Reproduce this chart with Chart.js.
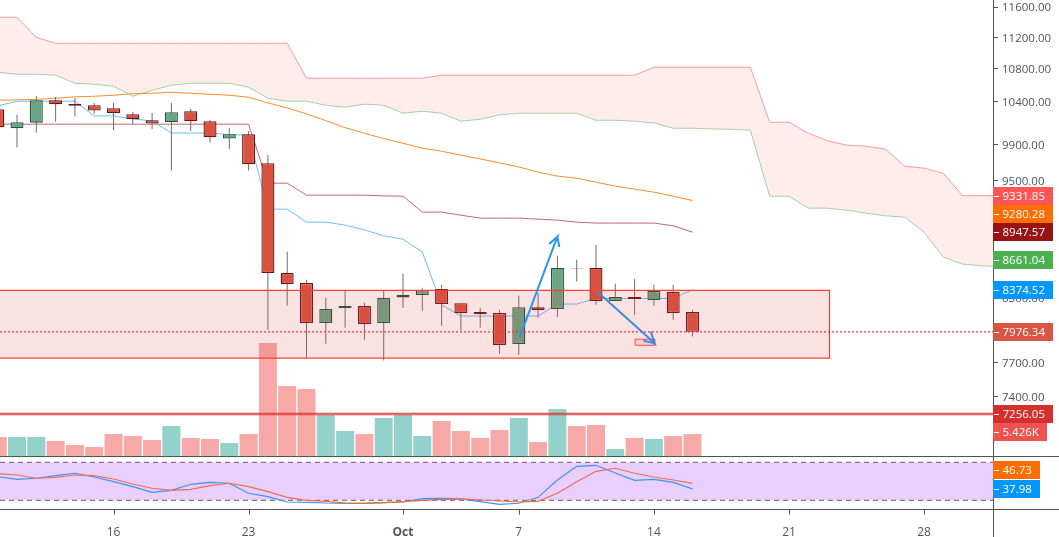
<!DOCTYPE html>
<html>
<head>
<meta charset="utf-8">
<title>BTC daily</title>
<script src="https://cdn.jsdelivr.net/npm/chart.js@4"></script>
<style>
  html, body { margin: 0; padding: 0; background: #fff; overflow: hidden; }
  canvas { display: block; }
</style>
</head>
<body>
<canvas id="myChart" width="1059" height="537"></canvas>
<script>
// x values are day numbers counted from 1 Sep (31 = 1 Oct)
const candleDays = [10,11,12,13,14,15,16,17,18,19,20,21,22,23,24,25,26,27,28,29,30,31,32,33,34,35,36,37,38,39,40,41,42,43,44,45,46];
const candleOpen = [10310,10087,10152,10418,10374,10358,10322,10251,10180,10157,10287,10169,9967,10017,9688,8536,8438,8058,8198,8217,8058,8299,8322,8380,8245,8160,8151,7865,8207,8189,8585,8585,8265,8303,8274,8351,8160];
const candleClose = [10099,10157,10418,10370,10353,10294,10263,10192,10141,10275,10169,9983,10017,9677,8536,8428,8058,8189,8217,8048,8293,8322,8370,8236,8151,8142,7856,8207,8179,8585,8582,8265,8303,8284,8361,8151,7976.34];
const candleHigh = [10362,10243,10470,10458,10442,10386,10386,10278,10266,10386,10314,10184,10090,10055,9781,8748,8470,8296,8363,8248,8366,8529,8392,8421,8245,8201,8182,8315,8344,8707,8667,8818,8431,8480,8421,8421,8182];
const candleLow = [10067,9864,10036,10164,10223,10258,10067,10137,10079,9606,10055,9921,9849,9606,7996,8220,7739,7868,8014,7904,7718,8201,8173,8033,7987,8014,7777,7768,8107,8116,8451,8229,8265,8135,8220,8088,7934];

const volumeK = [4.69,4.69,4.69,3.70,2.71,2.22,5.43,4.93,3.95,7.40,4.44,4.19,3.21,5.43,27.87,17.26,16.52,10.1,6.17,5.43,9.37,10.1,4.93,8.63,6.17,4.44,6.41,9.37,3.45,11.59,7.40,7.64,1.73,4.44,4.19,4.93,5.426];
const volumeUp = [false,true,true,false,false,false,false,false,false,true,false,false,true,false,false,false,false,true,true,false,true,true,true,false,false,false,false,true,false,true,false,false,true,false,true,false,false];

const cloudDays = [10,11,12,13,14,15,16,17,18,19,20,21,22,23,24,25,26,27,28,29,30,31,32,33,34,35,36,37,38,39,40,41,42,43,44,45,46,47,48,49,50,51,52,53,54,55,56,57,58,59,60,61,62];
const cloudTop = [11464,11464,11202,11125,11125,11125,11125,11125,11125,11125,11125,11125,11125,11125,11125,11125,10686,10686,10686,10686,10686,10686,10686,10723,10723,10723,10723,10723,10723,10723,10723,10723,10723,10723,10822,10822,10822,10822,10822,10822,10157,10157,10029,9941,9892,9880,9846,9655,9633,9576,9331.85,9331.85,9331.85];
const cloudBottom = [10760,10735,10735,10723,10624,10612,10587,10466,10538,10600,10624,10624,10624,10575,10442,10406,10406,10358,10334,10371,10358,10263,10287,10263,10169,10192,10243,10263,10263,10263,10263,10180,10180,10169,10149,10087,10087,10079,10075,10064,9327,9327,9199,9199,9178,9146,9118,9104,8948,8695,8624,8607,8600];

const maOrange = [10418,10422,10428,10442,10458,10466,10478,10497,10502,10514,10502,10490,10478,10454,10386,10326,10255,10176,10094,10029,9967,9914,9857,9823,9778,9736,9692,9647,9589,9545,9523,9479,9435,9403,9370,9327,9280.28];
const maMaroon = [10134,10134,10134,10134,10134,10134,10134,10134,10134,10134,10134,10134,10134,10134,9468,9468,9338,9338,9338,9338,9330,9327,9157,9157,9125,9094,9094,9094,9083,9073,9052,9042,9042,9042,9042,9014,8947.57];
const maBlue = [10350,10406,10406,10406,10406,10231,10231,10196,10172,10032,10032,10032,10013,10006,9188,9188,9052,9052,9021,8972,8910,8876,8745,8229,8123,8123,8123,8123,8123,8236,8236,8289,8289,8289,8289,8289,8374.52];

const stochK = [57.3,53.2,54.8,58.9,62.7,56.8,49.4,41.5,32.6,35.8,45.3,48.4,46.9,31.1,25.7,17.3,16.8,15.7,15.3,15.3,16.2,17.3,22.5,23.2,22.1,17.8,13.7,15.3,24.7,52.1,73.7,75.3,63.1,51.6,53.2,48.4,37.98];
const stochD = [62,60,54.8,56.3,60,58.9,53.7,45.8,39,35.8,37.4,43.1,46.9,41.5,33.6,24.7,20,18.4,15.7,15.3,16.2,17.8,20,21.6,22.1,20.5,18.9,17.3,18.4,31.1,49.4,65.8,70.6,62.7,56.8,52.1,46.73];
const stochBands = [80, 20];

const priceTicks = [11600,11200,10800,10400,9900,9500,9100,8700,8300,8000,7700,7400];
const timeTicks = [16,23,31,37,44,51,58];
const timeLabels = ['16','23','Oct','7','14','21','28'];

const lastClose = 7976.34;
const supportLevel = 7256.05;
const zoneDays = [10, 53.1];
const zonePrices = [8367, 7739];
const markerDays = [43.03, 44.04];
const markerPrices = [7909, 7854];
// drawn arrows: tail, tip, barb, tip, barb
const arrowUpDays = [37.03, 39, 38.57, 39, 39.1];
const arrowUpPrices = [7921, 8901, 8827, 8901, 8796];
const arrowDownDays = [41.07, 44.04, 43.84, 44.04, 43.45];
const arrowDownPrices = [8355, 7872, 7979, 7872, 7896];

const tagTexts = ['9331.85','9280.28','8947.57','8661.04','8374.52','7976.34','7256.05','5.426K','46.73','37.98'];
const tagValues = [9331.85,9280.28,8947.57,8661.04,8374.52,7976.34,7256.05,5.426,46.73,37.98];

const FONT = '"Open Sans", sans-serif';
const TEXT = '#50535e';
const X_MIN = 10.119, X_MAX = 61.57;

function pairs(xs, ys) { return xs.map((x, i) => ({ x: x, y: ys[i] })); }
function hline(y) { return [{ x: X_MIN, y: y }, { x: X_MAX + 1, y: y }]; }
function box(xs, ys) {
  return [
    { x: xs[0], y: ys[0] }, { x: xs[1], y: ys[0] }, { x: xs[1], y: ys[1] },
    { x: xs[0], y: ys[1] }, { x: xs[0], y: ys[0] }
  ];
}
function line(label, data, color, order, extra) {
  return Object.assign({
    type: 'line', label: label, data: data, borderColor: color, borderWidth: 1,
    pointRadius: 0, tension: 0, fill: false, order: order, yAxisID: 'y'
  }, extra || {});
}

const isUp = candleDays.map((d, i) => candleClose[i] >= candleOpen[i]);

const datasets = [
  line('Cloud top', pairs(cloudDays, cloudTop), '#ff9a9a', 100, { fill: { target: '+1' }, backgroundColor: 'rgba(255,82,82,0.1)' }),
  line('Cloud bottom', pairs(cloudDays, cloudBottom), '#a3d1a1', 99),
  line('Band top', hline(stochBands[0]), '#6a5a7a', 98, { yAxisID: 'yStoch', borderDash: [5, 4], fill: { target: '+1' }, backgroundColor: '#e9cffe' }),
  line('Band bottom', hline(stochBands[1]), '#6a5a7a', 97, { yAxisID: 'yStoch', borderDash: [5, 4] }),
  {
    type: 'bar', label: 'Volume', yAxisID: 'yVol', order: 90, barThickness: 18, grouped: false, inflateAmount: 0,
    data: pairs(candleDays, volumeK),
    backgroundColor: volumeUp.map(u => u ? '#93d2ca' : '#f7a9a8')
  },
  line('MA 200', pairs(candleDays, maOrange), '#ff8a2a', 80),
  line('MA 100', pairs(candleDays, maMaroon), '#bf6c6c', 79),
  line('MA 50', pairs(candleDays, maBlue), '#6cbcff', 78),
  {
    type: 'bar', label: 'Wicks', yAxisID: 'y', order: 60, barThickness: 1, grouped: false, inflateAmount: 0,
    data: candleDays.map((d, i) => ({ x: d, y: [candleLow[i], candleHigh[i]] })),
    backgroundColor: '#6f6f72'
  },
  {
    type: 'bar', label: 'Candles', yAxisID: 'y', order: 50, barThickness: 13, grouped: false, inflateAmount: 0,
    data: candleDays.map((d, i) => ({ x: d, y: [candleOpen[i], candleClose[i]] })),
    backgroundColor: isUp.map(u => u ? '#6aa583' : '#d95340'),
    borderColor: isUp.map(u => u ? '#22543a' : '#6b1414'),
    borderWidth: 1.3, borderSkipped: false
  },
  line('Zone', box(zoneDays, zonePrices), '#f44336', 40, { fill: 'shape', backgroundColor: 'rgba(220,60,60,0.15)', borderWidth: 1.2 }),
  line('Last close', hline(lastClose), '#e53935', 35, { borderDash: [2, 2], borderWidth: 1.4 }),
  line('Support glow', hline(supportLevel), 'rgba(229,57,53,0.5)', 34, { borderWidth: 3 }),
  line('Support', hline(supportLevel), '#dc2d2d', 33),
  line('Marker', box(markerDays, markerPrices), '#f05050', 32, { fill: 'shape', backgroundColor: 'rgba(244,67,54,0.12)' }),
  line('Arrow up', pairs(arrowUpDays, arrowUpPrices), '#2b94ef', 31, { borderWidth: 2 }),
  line('Arrow down', pairs(arrowDownDays, arrowDownPrices), '#3d8be0', 30, { borderWidth: 2 }),
  line('Stoch K', pairs(candleDays, stochK), '#3e92ff', 20, { yAxisID: 'yStoch', borderWidth: 1.2 }),
  line('Stoch D', pairs(candleDays, stochD), '#ee6c55', 19, {
    yAxisID: 'yStoch', borderWidth: 1.2,
    segment: { borderColor: c => (c.p0.parsed.y < 20 && c.p1.parsed.y < 20) ? '#ff6d00' : undefined }
  })
];

// axis rules, time ticks and the coloured last-value tags on the price scale
const chromePlugin = {
  id: 'chrome',
  beforeDraw(chart) {
    // price labels sit a pixel under their tick in the original
    chart.scales.y.getLabelItems(chart.chartArea).forEach(it => {
      if (!it.shifted) { it.options.translation[1] += 1; it.shifted = true; }
    });
  },
  afterDraw(chart) {
    const c = chart.ctx, s = chart.scales, right = chart.chartArea.right;
    c.save();
    c.strokeStyle = TEXT;
    c.lineWidth = 1;
    c.beginPath();
    c.moveTo(right + 0.5, 0); c.lineTo(right + 0.5, 537);
    c.moveTo(0, 456.5); c.lineTo(1059, 456.5);
    c.moveTo(0, 509.5); c.lineTo(1059, 509.5);
    timeTicks.forEach(d => {
      const x = Math.round(s.x.getPixelForValue(d)) + 0.5;
      c.moveTo(x, 509.5); c.lineTo(x, 514.5);
    });
    c.stroke();

    const axes = ['y','y','y','y','y','y','y','yVol','yStoch','yStoch'];
    const colors = ['#fe5555','#ff6d00','#981414','#4caf50','#0496ff','#d85544','#d32f2f','#ef5350','#ff6d00','#0496ff'];
    const widths = [60,60,60,60,60,60,60,54,47,47];
    const nudges = [0,13.4,0,0,0,0,0,-2,-13.4,0];
    c.font = '11.5px ' + FONT;
    c.textBaseline = 'middle';
    tagTexts.forEach((t, i) => {
      const y = Math.round(s[axes[i]].getPixelForValue(tagValues[i]) + nudges[i]);
      c.fillStyle = colors[i];
      c.fillRect(right, y - 9, widths[i], 18);
      c.fillStyle = '#fff';
      c.fillRect(right + 1, y, 5, 1);
      c.fillText(t, right + 9.5, y + 0.5);
    });
    c.restore();
  }
};

Chart.defaults.font.family = FONT;
Chart.defaults.font.size = 12;
Chart.defaults.color = TEXT;

var myChart = new Chart(document.getElementById('myChart'), {
  data: { datasets: datasets },
  plugins: [chromePlugin],
  options: {
    responsive: false,
    animation: false,
    events: [],
    layout: { padding: 0 },
    plugins: { legend: { display: false }, tooltip: { enabled: false }, title: { display: false } },
    scales: {
      x: {
        type: 'linear', min: X_MIN, max: X_MAX, offset: false, bounds: 'data',
        grid: { display: false },
        border: { display: false },
        afterBuildTicks: a => { a.ticks = timeTicks.map(v => ({ value: v })); },
        afterFit: a => { a.height = 28; a.paddingLeft = 0; a.paddingRight = 0; },
        ticks: {
          autoSkip: false, maxRotation: 0, padding: 8,
          callback: v => timeLabels[timeTicks.indexOf(v)],
          font: c => ({ weight: c.tick && c.tick.value === 31 ? 'bold' : 'normal' })
        }
      },
      y: {
        type: 'logarithmic', position: 'right', min: 6503, max: 11694, bounds: 'data',
        grid: { drawOnChartArea: false, tickLength: 5, color: TEXT },
        border: { display: false },
        afterBuildTicks: a => { a.ticks = priceTicks.map(v => ({ value: v })); },
        afterFit: a => { a.width = 66; a.paddingTop = 0; a.paddingBottom = 0; },
        ticks: { autoSkip: false, padding: 4, font: { size: 11.5 }, callback: v => Number(v).toFixed(2) }
      },
      // volume sits on the bottom of the price pane, zero at the pane edge
      yVol: { type: 'linear', display: false, min: -13.07, max: 112.45, bounds: 'data' },
      // stochastic pane below, the 80/20 band is kept in its own strip
      yStoch: { type: 'linear', display: false, min: 6.26, max: 810.3, bounds: 'data' }
    }
  }
});
</script>
</body>
</html>
